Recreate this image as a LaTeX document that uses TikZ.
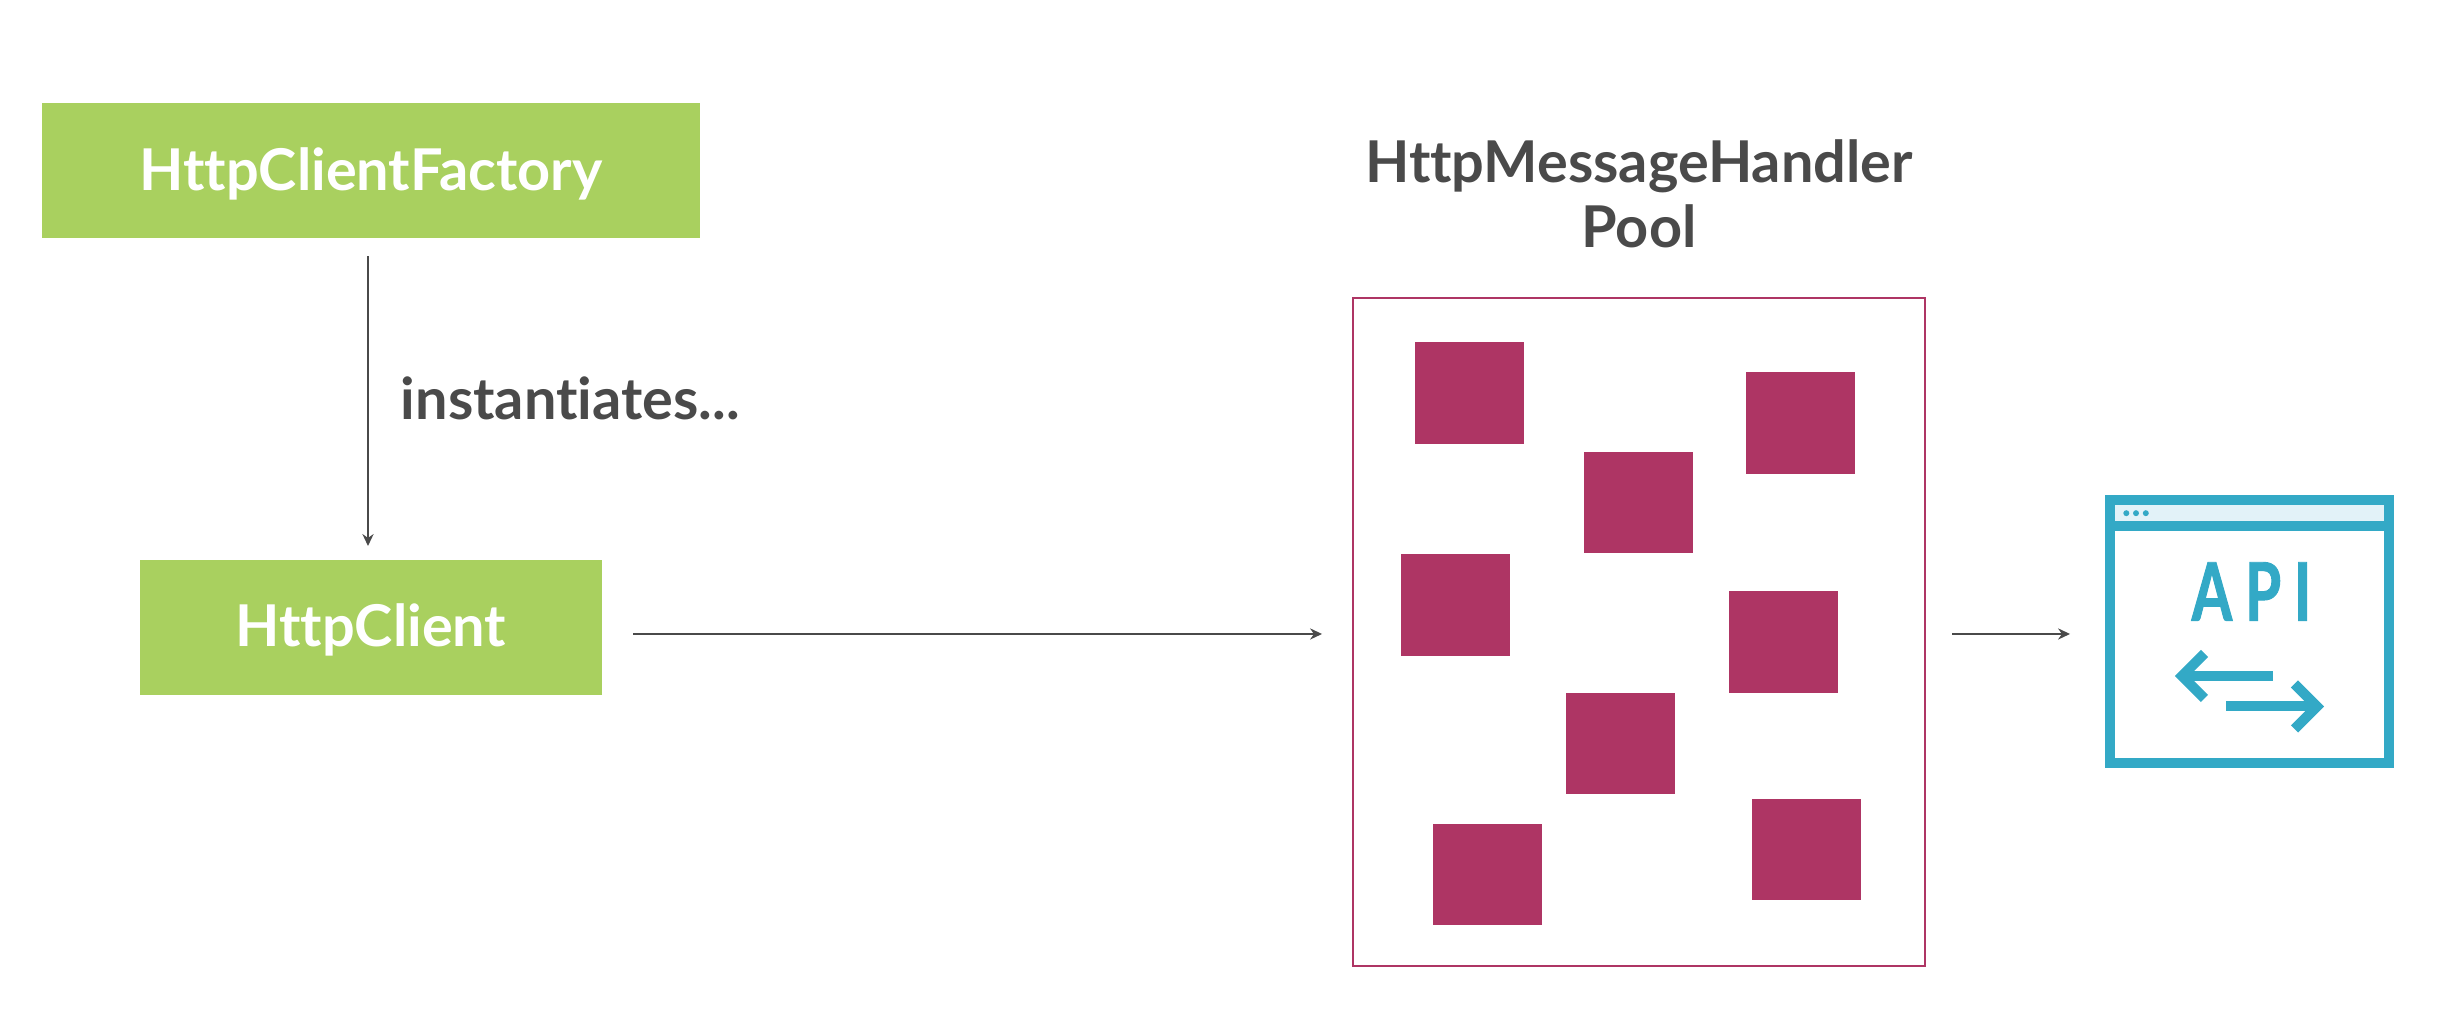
\documentclass[tikz,border=0pt]{standalone}
\usepackage{fontspec}
\setmainfont{Lato}[Ligatures=NoCommon]
\newfontfamily\apifont[LetterSpace=16, FakeStretch=0.72, FakeBold=1.2]{Lato}
\usetikzlibrary{positioning, arrows.meta}

\definecolor{appgreen}{HTML}{A9D05F}
\definecolor{poolred}{HTML}{AE3564}
\definecolor{labelgray}{HTML}{4A4A4A}
\definecolor{apiblue}{HTML}{33A9C6}
\definecolor{apibar}{HTML}{E2F2F8}

\tikzset{
    appbox/.style={fill=appgreen, text=white, font=\fontsize{16.4}{18}\selectfont\bfseries, text height=0.5cm, text depth=0.11cm, minimum height=1.35cm, outer sep=0pt},
    handler/.style={fill=poolred, minimum width=1.09cm, minimum height=1.015cm, outer sep=0pt},
    flow/.style={draw=labelgray, line width=0.4pt, -{Stealth[length=3.4pt, width=3.2pt]}},
    tag/.style={text=labelgray, font=\fontsize{16.4}{18.5}\selectfont\bfseries},
    apistroke/.style={draw=apiblue, line width=0.1cm, miter limit=10}
}

\begin{document}
\begin{tikzpicture}
    \useasboundingbox (0, 0) rectangle (24.44, 10.20);

    \node[appbox, minimum width=6.58cm] (factory) at (3.71, 8.49) {HttpClientFactory};
    \node[appbox, minimum width=4.62cm] (client) at (3.71, 3.925) {HttpClient};
    \node[tag, anchor=west] (inst) at (3.885, 6.22) {instantiates...};

    \node[draw=poolred, line width=0.4pt, minimum width=5.72cm, minimum height=6.68cm, outer sep=0pt] (pool) at (16.39, 3.88) {};
    \node[tag, align=center] (poolname) at (16.39, 8.26) {HttpMessageHandler\\Pool};

    \node[handler] (h1) at (14.69, 6.27) {};
    \node[handler] (h2) at (18.00, 5.97) {};
    \node[handler] (h3) at (16.38, 5.175) {};
    \node[handler] (h4) at (14.555, 4.15) {};
    \node[handler] (h5) at (17.83, 3.78) {};
    \node[handler] (h6) at (16.20, 2.765) {};
    \node[handler] (h7) at (14.87, 1.455) {};
    \node[handler] (h8) at (18.06, 1.705) {};

    \node[draw=apiblue, line width=0.1cm, minimum width=2.79cm, minimum height=2.63cm] (api) at (22.495, 3.885) {};

    \begin{scope}[shift={(api.center)}]
        \fill[apibar] (-1.345, 1.107) rectangle (1.345, 1.26);
        \draw[apistroke] (-1.395, 1.057) -- (1.395, 1.057);
        \foreach \x in {-1.232, -1.135, -1.037}
            \fill[apiblue] (\x, 1.183) circle (0.03);
        \node[text=apiblue, font=\fontsize{23}{23}\selectfont\bfseries\apifont] (apiname) at (0.02, 0.40) {API};
        \draw[apistroke] (0.232, -0.445) -- (-0.675, -0.445);
        \draw[apistroke] (-0.45, -0.22) -- (-0.675, -0.445) -- (-0.45, -0.67);
        \draw[apistroke] (-0.235, -0.75) -- (0.675, -0.75);
        \draw[apistroke] (0.45, -0.525) -- (0.675, -0.75) -- (0.45, -0.975);
    \end{scope}

    \draw[flow, shorten <=0.18cm, shorten >=0.14cm] ([xshift=-0.03cm]factory.south) -- ([xshift=-0.03cm]client.north);
    \draw[flow, shorten <=0.31cm, shorten >=0.31cm] ([yshift=-0.065cm]client.east) -- ([yshift=-0.02cm]pool.west);
    \draw[flow, shorten <=0.27cm, shorten >=0.35cm] ([yshift=-0.02cm]pool.east) -- ([yshift=-0.025cm]api.west);
\end{tikzpicture}
\end{document}
